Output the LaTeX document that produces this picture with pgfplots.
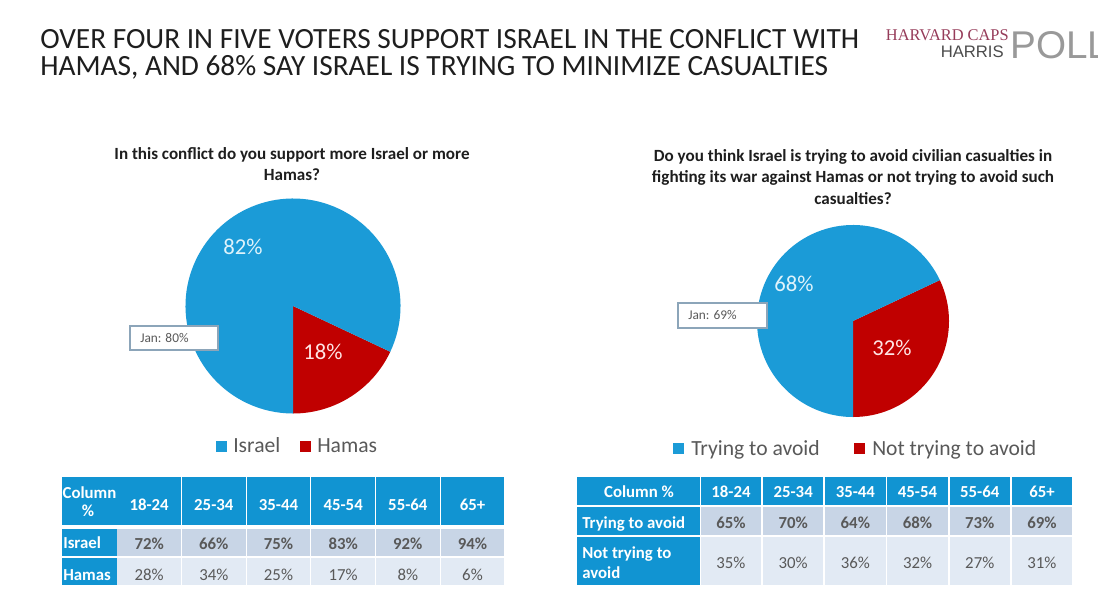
\documentclass[border=0pt]{standalone}
\usepackage{pgfplots}
\pgfplotsset{compat=1.18}
\usepackage{pgfplotstable}
\usepackage{fontspec}
\setmainfont{Carlito}
\newfontfamily\logoserif{Liberation Serif}
\newfontfamily\logosans{Liberation Sans}

\definecolor{pieblue}{RGB}{27,155,215}
\definecolor{piered}{RGB}{192,0,0}
\definecolor{hdr}{RGB}{17,148,210}
\definecolor{rowA}{RGB}{200,213,230}
\definecolor{rowB}{RGB}{226,234,244}
\definecolor{txtgray}{RGB}{89,89,89}
\definecolor{lbl}{RGB}{223,243,251}
\definecolor{harvard}{RGB}{150,60,90}
\definecolor{titlecol}{RGB}{30,30,30}
\definecolor{boxline}{RGB}{140,165,185}

% pie shares, percent
\pgfplotstableread{
slice share
israel 82
hamas 18
}\supporttable
\pgfplotstableread{
slice share
avoid 68
notavoid 32
}\avoidtable

\begin{document}
\begin{tikzpicture}[x=0.75pt,y=-0.75pt,
  every node/.style={inner sep=0pt},
  qtxt/.style={anchor=base, text=titlecol, font=\fontsize{12.8}{15}\selectfont\bfseries},
  legtxt/.style={anchor=base west, text=txtgray, font=\fontsize{16.2}{19}\selectfont},
  hdrtxt/.style={anchor=base, text=white, font=\fontsize{12.6}{14}\selectfont\bfseries},
  rowtxt/.style={anchor=base west, text=white, font=\fontsize{12.6}{14}\selectfont\bfseries},
  val/.style={anchor=base, text=txtgray, font=\fontsize{12.6}{14}\selectfont},
  valb/.style={anchor=base, text=txtgray, font=\fontsize{12.6}{14}\selectfont\bfseries},
  pielbl/.style={text=lbl, font=\fontsize{17}{19}\selectfont},
  janbox/.style={draw=boxline, line width=0.8pt, fill=white}]
\useasboundingbox (0,0) rectangle (1098,600);
\fill[white] (0,0) rectangle (1098,600);
\coordinate (pieL) at (293,306);
\coordinate (pieR) at (853,321);

% title
\node[anchor=base west, text=titlecol, font=\fontsize{22}{26}\selectfont] at (40,48)
  {OVER FOUR IN FIVE VOTERS SUPPORT ISRAEL IN THE CONFLICT WITH};
\node[anchor=base west, text=titlecol, font=\fontsize{22}{26}\selectfont] at (40,75)
  {HAMAS, AND 68\% SAY ISRAEL IS TRYING TO MINIMIZE CASUALTIES};

% logo
\node[anchor=base east, text=harvard, font=\logoserif\fontsize{12.3}{14}\selectfont] at (1009,40) {HARVARD CAPS};
\node[anchor=base east, text=black!70, font=\logosans\fontsize{12.5}{14}\selectfont] at (1004,57) {HARRIS};
\node[anchor=base west, text=black!40, font=\logosans\fontsize{29}{32}\selectfont] at (1010,58) {POLL};

% questions
\node[qtxt] at (292,159) {In this conflict do you support more Israel or more};
\node[qtxt] at (292,180) {Hamas?};
\node[qtxt] at (853,161) {Do you think Israel is trying to avoid civilian casualties in};
\node[qtxt] at (853,182) {fighting its war against Hamas or not trying to avoid such};
\node[qtxt] at (853,204) {casualties?};

% left pie
\pgfplotstablegetelem{1}{share}\of\supporttable
\pgfmathsetmacro{\redendL}{-90+3.6*\pgfplotsretval}
\begin{axis}[at={(pieL)}, anchor=center, scale only axis,
  width=161.25pt, height=161.25pt, xmin=-1, xmax=1, ymin=-1, ymax=1,
  hide axis, clip=false]
  \addplot[draw=none, forget plot] coordinates {(0,0)};
  \fill[piered] (axis cs:0,0) -- (axis cs:0,-1)
    arc[start angle=-90, end angle=\redendL, radius=80.625pt] -- cycle;
  \fill[pieblue] (axis cs:0,0) -- (axis cs:{cos(\redendL)},{sin(\redendL)})
    arc[start angle=\redendL, end angle=270, radius=80.625pt] -- cycle;
\end{axis}
\node[pielbl] at (243,247) {82\%};
\node[pielbl, text=red!10] at (323,352) {18\%};
\draw[janbox] (130,326) rectangle (218,350);
\node[anchor=west, text=txtgray, font=\fontsize{10}{12}\selectfont] at (140,338) {Jan: 80\%};

% right pie
\pgfplotstablegetelem{1}{share}\of\avoidtable
\pgfmathsetmacro{\redendR}{-90+3.6*\pgfplotsretval}
\begin{axis}[at={(pieR)}, anchor=center, scale only axis,
  width=144pt, height=144pt, xmin=-1, xmax=1, ymin=-1, ymax=1,
  hide axis, clip=false]
  \addplot[draw=none, forget plot] coordinates {(0,0)};
  \fill[piered] (axis cs:0,0) -- (axis cs:0,-1)
    arc[start angle=-90, end angle=\redendR, radius=72pt] -- cycle;
  \fill[pieblue] (axis cs:0,0) -- (axis cs:{cos(\redendR)},{sin(\redendR)})
    arc[start angle=\redendR, end angle=270, radius=72pt] -- cycle;
\end{axis}
\node[pielbl] at (794,284) {68\%};
\node[pielbl, text=red!10] at (892,348) {32\%};
\draw[janbox] (678,303) rectangle (767,328);
\node[anchor=west, text=txtgray, font=\fontsize{10}{12}\selectfont] at (688,315.5) {Jan: 69\%};

% legends
\fill[pieblue] (216,441) rectangle (227,452);
\node[legtxt] at (233,452) {Israel};
\fill[piered] (300,441) rectangle (311,452);
\node[legtxt] at (317,452) {Hamas};
\fill[pieblue] (673,443) rectangle (684,454);
\node[legtxt] at (691,455) {Trying to avoid};
\fill[piered] (854,443) rectangle (865,454);
\node[legtxt] at (872,455) {Not trying to avoid};

% left table
\fill[hdr] (62,477) rectangle (116.5,525);
\node[hdrtxt] at (89.5,498) {Column};
\node[hdrtxt] at (88,516) {\%};
\fill[hdr] (62,529) rectangle (116.5,556);
\node[rowtxt] at (63,548) {Israel};
\fill[hdr] (62,557.5) rectangle (116.5,585);
\node[rowtxt] at (63,580) {Hamas};
\foreach \lab [count=\i from 0] in {18-24,25-34,35-44,45-54,55-64,65+} {
  \pgfmathsetmacro{\xa}{117.3+\i*64.67}
  \pgfmathsetmacro{\xb}{\xa+63.7}
  \pgfmathsetmacro{\xm}{(\xa+\xb)/2}
  \fill[hdr] (\xa,477) rectangle (\xb,525);
  \node[hdrtxt] at (\xm,510) {\lab};
  \fill[rowA] (\xa,529) rectangle (\xb,556);
  \fill[rowB] (\xa,557.5) rectangle (\xb,585);
}
\foreach \v [count=\i from 0] in {72,66,75,83,92,94} {
  \pgfmathsetmacro{\xm}{117.3+\i*64.67+31.85}
  \node[valb] at (\xm,549) {\v\%};
}
\foreach \v [count=\i from 0] in {28,34,25,17,8,6} {
  \pgfmathsetmacro{\xm}{117.3+\i*64.67+31.85}
  \node[val] at (\xm,580) {\v\%};
}

% right table
\fill[hdr] (577,477) rectangle (699.5,505);
\node[hdrtxt] at (639,497) {Column \%};
\fill[hdr] (577,507) rectangle (699.5,535);
\node[rowtxt] at (582,528) {Trying to avoid};
\fill[hdr] (577,537) rectangle (699.5,585);
\node[rowtxt] at (582,558) {Not trying to};
\node[rowtxt] at (582,578) {avoid};
\foreach \lab [count=\i from 0] in {18-24,25-34,35-44,45-54,55-64,65+} {
  \pgfmathsetmacro{\xa}{700.7+\i*62.2}
  \pgfmathsetmacro{\xb}{\xa+60.5}
  \pgfmathsetmacro{\xm}{(\xa+\xb)/2}
  \fill[hdr] (\xa,477) rectangle (\xb,505);
  \node[hdrtxt] at (\xm,497) {\lab};
  \fill[rowA] (\xa,507) rectangle (\xb,535);
  \fill[rowB] (\xa,537) rectangle (\xb,585);
}
\foreach \v [count=\i from 0] in {65,70,64,68,73,69} {
  \pgfmathsetmacro{\xm}{700.7+\i*62.2+30.25}
  \node[valb] at (\xm,528) {\v\%};
}
\foreach \v [count=\i from 0] in {35,30,36,32,27,31} {
  \pgfmathsetmacro{\xm}{700.7+\i*62.2+30.25}
  \node[val] at (\xm,568) {\v\%};
}
\end{tikzpicture}
\end{document}
